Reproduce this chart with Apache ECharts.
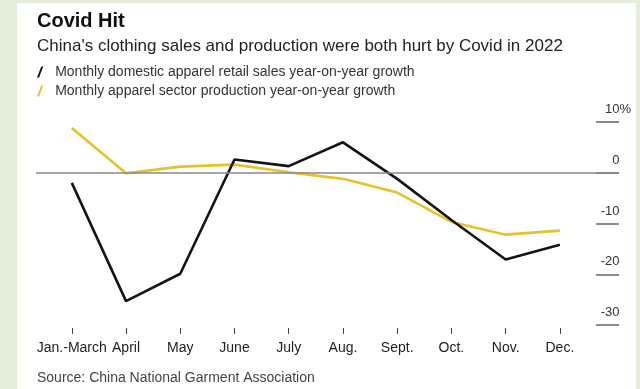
<!DOCTYPE html>
<html>
<head>
<meta charset="utf-8">
<script src="https://cdn.jsdelivr.net/npm/echarts@6/dist/echarts.min.js"></script>
<style>
  html, body { margin: 0; padding: 0; background: #e5eedb; }
  #panel { position: absolute; left: 17px; top: 3px; width: 619px; height: 386px; background: #ffffff; }
  #chart { position: absolute; left: 0; top: 0; width: 640px; height: 389px; }
</style>
</head>
<body>
<div id="panel"></div>
<div id="chart"></div>
<script>
// Month labels along the x axis
const months = ['Jan.-March', 'April', 'May', 'June', 'July', 'Aug.', 'Sept.', 'Oct.', 'Nov.', 'Dec.'];
// Monthly domestic apparel retail sales, year-on-year growth (%)
const retailSales = [-2.0, -25.3, -19.9, 2.6, 1.3, 6.0, -1.2, -9.3, -17.1, -14.2];
// Monthly apparel sector production, year-on-year growth (%)
const production = [8.8, -0.1, 1.2, 1.6, 0.1, -1.2, -3.9, -9.7, -12.2, -11.4];
// Value-axis ticks
const yTicks = [-30, -20, -10, 0, 10];

const retailName = 'Monthly domestic apparel retail sales year-on-year growth';
const prodName = 'Monthly apparel sector production year-on-year growth';
const FONT = '"Liberation Sans", Arial, sans-serif';
const slash = 'path://M0,14 L2.6,14 L8,0 L5.4,0 Z';

const idx = months.map((_, i) => i);
const toPairs = arr => arr.map((v, i) => [i, v]);

const chart = echarts.init(document.getElementById('chart'), null, { renderer: 'canvas' });
chart.setOption({
  animation: false,
  textStyle: { fontFamily: FONT },
  title: [
    { text: 'Covid Hit', left: 37, top: 11, padding: 0,
      textStyle: { fontFamily: FONT, fontSize: 20, fontWeight: 'bold', color: '#111' } },
    { text: "China's clothing sales and production were both hurt by Covid in 2022", left: 37, top: 38, padding: 0,
      textStyle: { fontFamily: FONT, fontSize: 17, fontWeight: 'normal', color: '#222' } },
    { text: 'Source: China National Garment Association', left: 37, top: 371, padding: 0,
      textStyle: { fontFamily: FONT, fontSize: 14, fontWeight: 'normal', color: '#444' } }
  ],
  legend: {
    orient: 'vertical', left: 37, top: 65, padding: 0,
    itemWidth: 8, itemHeight: 11, itemGap: 5,
    textStyle: { fontFamily: FONT, fontSize: 14, color: '#333', padding: [0, 0, 0, 6] },
    data: [
      { name: retailName, icon: slash, itemStyle: { color: '#141414' } },
      { name: prodName, icon: slash, itemStyle: { color: '#e6c229' } }
    ],
    selectedMode: false
  },
  grid: { left: 36, right: 21, top: 122, bottom: 64, containLabel: false },
  xAxis: {
    type: 'value', min: -0.66, max: 10.09,
    offset: 3,
    axisLine: { show: false, onZero: false },
    splitLine: { show: false },
    axisTick: { show: true, customValues: idx, length: 6, lineStyle: { color: '#444', width: 1 } },
    axisLabel: {
      customValues: idx, margin: 13,
      formatter: v => months[Math.round(v)],
      fontFamily: FONT, fontSize: 14, color: '#222'
    }
  },
  yAxis: {
    type: 'value', position: 'right', min: -30, max: 10, interval: 10,
    axisLine: { show: false, onZero: false },
    splitLine: { show: false },
    axisTick: { show: true, inside: true, length: 23, lineStyle: { color: '#666', width: 1.5 } },
    axisLabel: {
      inside: true, margin: -12, verticalAlign: 'bottom', padding: [0, 0, 6, 0],
      fontFamily: FONT, fontSize: 13, color: '#333',
      formatter: v => v === 10 ? '10%' : v + '{h|%}',
      rich: { h: { color: 'rgba(0,0,0,0)', fontFamily: FONT, fontSize: 13 } }
    }
  },
  series: [
    {
      name: prodName, type: 'line', data: toPairs(production),
      symbol: 'none', lineStyle: { color: '#e6c229', width: 2.6 }, itemStyle: { color: '#e6c229' },
      markLine: {
        silent: true, symbol: 'none', label: { show: false },
        lineStyle: { color: '#888', width: 1.5, type: 'solid' },
        data: [{ yAxis: 0 }]
      }
    },
    {
      name: retailName, type: 'line', data: toPairs(retailSales),
      symbol: 'none', lineStyle: { color: '#141414', width: 2.6 }, itemStyle: { color: '#141414' }
    }
  ]
});
</script>
</body>
</html>
